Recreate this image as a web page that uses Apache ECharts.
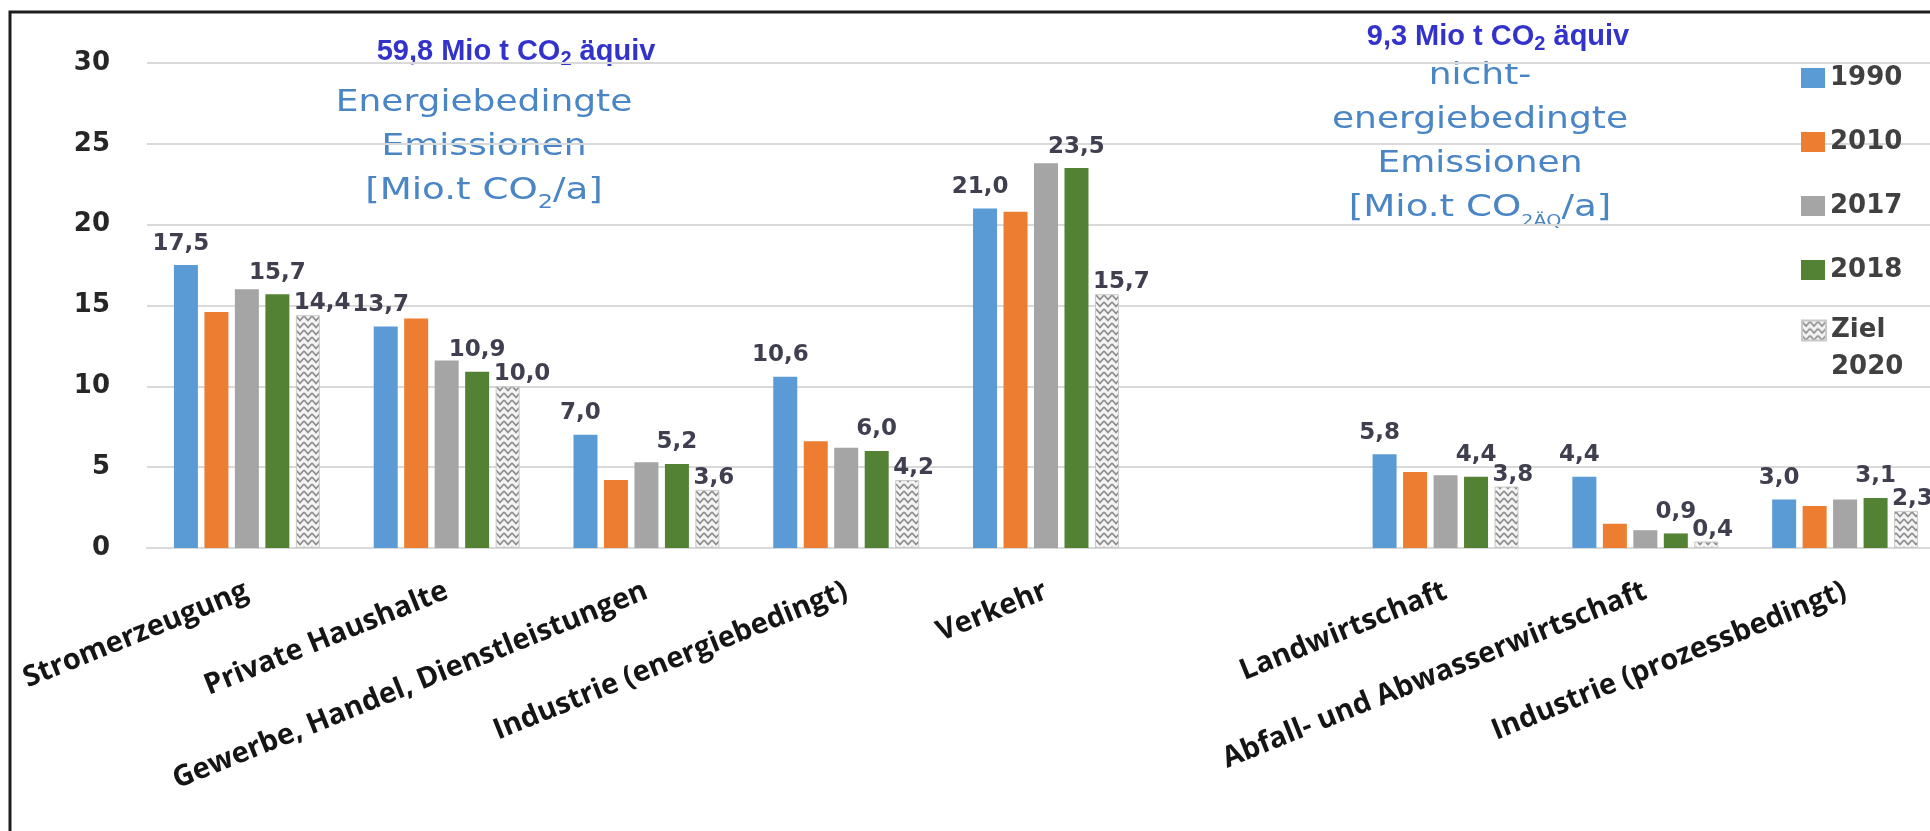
<!DOCTYPE html>
<html>
<head>
<meta charset="utf-8">
<title>Emissionen</title>
<script src="https://cdn.jsdelivr.net/npm/echarts@6/dist/echarts.min.js"></script>
<style>
  html, body { margin: 0; padding: 0; background: #fff; }
  #chart { width: 1930px; height: 831px; }
</style>
</head>
<body>
<div id="chart"></div>
<script>
// categories, one empty slot between the two blocks
const categories = [
  'Stromerzeugung',
  'Private Haushalte',
  'Gewerbe, Handel, Dienstleistungen',
  'Industrie (energiebedingt)',
  'Verkehr',
  '',
  'Landwirtschaft',
  'Abfall- und Abwasserwirtschaft',
  'Industrie (prozessbedingt)'
]

const y1990 = [17.5, 13.7, 7.0, 10.6, 21.0, null, 5.8, 4.4, 3.0]
const y2010 = [14.6, 14.2, 4.2, 6.6, 20.8, null, 4.7, 1.5, 2.6]
const y2017 = [16.0, 11.6, 5.3, 6.2, 23.8, null, 4.5, 1.1, 3.0]
const y2018 = [15.7, 10.9, 5.2, 6.0, 23.5, null, 4.4, 0.9, 3.1]
const ziel2020 = [14.4, 10.0, 3.6, 4.2, 15.7, null, 3.8, 0.4, 2.3]

const yTicks = [0, 5, 10, 15, 20, 25, 30]

// zig zag fill for the target bars
function zigzag() {
  const c = document.createElement('canvas')
  c.width = 8
  c.height = 7
  const ctx = c.getContext('2d')
  ctx.fillStyle = '#f4f4f4'
  ctx.fillRect(0, 0, 8, 7)
  ctx.strokeStyle = '#8e8e8e'
  ctx.lineWidth = 1.8
  ctx.beginPath()
  ctx.moveTo(0, 1)
  ctx.lineTo(4, 5.5)
  ctx.lineTo(8, 1)
  ctx.stroke()
  return c
}

const fmt = p => p.value.toFixed(1).replace('.', ',')
const numFont = { fontFamily: 'DejaVu Sans', fontWeight: 'bold', fontSize: 23, color: '#3f3f4f' }

const topLabel = Object.assign({ show: true, position: 'top', distance: 10, formatter: fmt }, numFont)

const legendText = { fontFamily: 'DejaVu Sans', fontWeight: 'bold', fontSize: 26, color: '#404040' }

const chart = echarts.init(document.getElementById('chart'))

chart.setOption({
  backgroundColor: '#ffffff',
  animation: false,
  grid: {
    left: 147,
    top: 63,
    width: 1798,
    height: 485,
    containLabel: false,
    outerBoundsMode: 'none'
  },
  legend: [
    {
      data: ['1990', '2010', '2017', '2018'],
      orient: 'vertical',
      left: 1801,
      top: 63,
      padding: 0,
      itemWidth: 24,
      itemHeight: 20,
      itemGap: 34,
      icon: 'rect',
      selectedMode: false,
      textStyle: Object.assign({ lineHeight: 30 }, legendText)
    },
    {
      data: ['Ziel 2020'],
      orient: 'vertical',
      left: 1801,
      top: 275,
      padding: 0,
      itemWidth: 24,
      itemHeight: 20,
      icon: 'rect',
      selectedMode: false,
      // empty first line keeps the swatch level with "Ziel"
      formatter: '\nZiel\n2020',
      textStyle: Object.assign({ lineHeight: 37 }, legendText)
    }
  ],
  xAxis: {
    type: 'category',
    data: categories,
    axisTick: { show: false },
    axisLine: { lineStyle: { color: '#d9d9d9', width: 2 } },
    axisLabel: {
      interval: 0,
      rotate: 22,
      margin: 42,
      fontFamily: 'Open Sans',
      fontWeight: 'bold',
      fontSize: 29,
      color: '#151515'
    }
  },
  yAxis: {
    type: 'value',
    min: yTicks[0],
    max: yTicks[yTicks.length - 1],
    interval: 5,
    axisLine: { show: false },
    axisTick: { show: false },
    splitLine: { lineStyle: { color: '#d9d9d9', width: 2 } },
    axisLabel: {
      margin: 37,
      fontFamily: 'DejaVu Sans',
      fontWeight: 'bold',
      fontSize: 26,
      color: '#262626'
    }
  },
  series: [
    {
      name: '1990', type: 'bar', data: y1990, barWidth: 24, barGap: '27%',
      itemStyle: { color: '#5b9bd5' },
      label: Object.assign({}, topLabel, { offset: [-5, 0] })
    },
    {
      name: '2010', type: 'bar', data: y2010, barWidth: 24, barGap: '27%',
      itemStyle: { color: '#ed7d31' }
    },
    {
      name: '2017', type: 'bar', data: y2017, barWidth: 24, barGap: '27%',
      itemStyle: { color: '#a5a5a5' }
    },
    {
      name: '2018', type: 'bar', data: y2018, barWidth: 24, barGap: '27%',
      itemStyle: { color: '#548235' },
      label: topLabel
    },
    {
      name: 'Ziel 2020', type: 'bar', data: ziel2020, barWidth: 24, barGap: '27%',
      itemStyle: {
        color: { image: zigzag(), repeat: 'repeat' },
        borderColor: '#c8c8c8',
        borderWidth: 1
      },
      label: Object.assign({
        show: true,
        position: [-2, -12],
        align: 'left',
        verticalAlign: 'middle',
        formatter: fmt
      }, numFont)
    }
  ],
  graphic: [
    {
      type: 'rect',
      silent: true,
      shape: { x: 10, y: 12, width: 2000, height: 900 },
      style: { fill: 'none', stroke: '#1e1e1e', lineWidth: 3 }
    },
    {
      type: 'text',
      x: 516, y: 52,
      style: {
        text: '{a|59,8 Mio t CO}{s|2}{a| äquiv}',
        align: 'center',
        verticalAlign: 'middle',
        rich: {
          a: { fontFamily: 'Liberation Sans', fontWeight: 'bold', fontSize: 29, lineHeight: 34, fill: '#3333cc' },
          s: { fontFamily: 'Liberation Sans', fontWeight: 'bold', fontSize: 20, lineHeight: 11, verticalAlign: 'bottom', fill: '#3333cc' }
        }
      }
    },
    {
      type: 'text',
      x: 1498, y: 37,
      style: {
        text: '{a|9,3 Mio t CO}{s|2}{a| äquiv}',
        align: 'center',
        verticalAlign: 'middle',
        rich: {
          a: { fontFamily: 'Liberation Sans', fontWeight: 'bold', fontSize: 29, lineHeight: 34, fill: '#3333cc' },
          s: { fontFamily: 'Liberation Sans', fontWeight: 'bold', fontSize: 20, lineHeight: 11, verticalAlign: 'bottom', fill: '#3333cc' }
        }
      }
    },
    {
      type: 'text',
      x: 484, y: 81,
      scaleX: 1.2,
      style: {
        text: '{b|Energiebedingte}\n{b|Emissionen}\n{c|[Mio.t CO}{s|2}{c|/a]}',
        align: 'center',
        verticalAlign: 'top',
        rich: {
          b: { fontFamily: 'DejaVu Sans', fontSize: 30, lineHeight: 44, fill: '#4a85c5' },
          c: { fontFamily: 'DejaVu Sans', fontSize: 31, lineHeight: 44, fill: '#4a85c5' },
          s: { fontFamily: 'DejaVu Sans', fontSize: 20, lineHeight: 32, verticalAlign: 'bottom', fill: '#4a85c5' }
        }
      }
    },
    {
      type: 'text',
      x: 1480, y: 54,
      scaleX: 1.2,
      style: {
        text: '{b|nicht-}\n{b|energiebedingte}\n{b|Emissionen}\n{c|[Mio.t CO}{s|2ÄQ}{c|/a]}',
        align: 'center',
        verticalAlign: 'top',
        rich: {
          b: { fontFamily: 'DejaVu Sans', fontSize: 30, lineHeight: 44, fill: '#4a85c5' },
          c: { fontFamily: 'DejaVu Sans', fontSize: 31, lineHeight: 44, fill: '#4a85c5' },
          s: { fontFamily: 'DejaVu Sans', fontSize: 16, lineHeight: 32, verticalAlign: 'bottom', fill: '#4a85c5' }
        }
      }
    }
  ]
})
</script>
</body>
</html>
